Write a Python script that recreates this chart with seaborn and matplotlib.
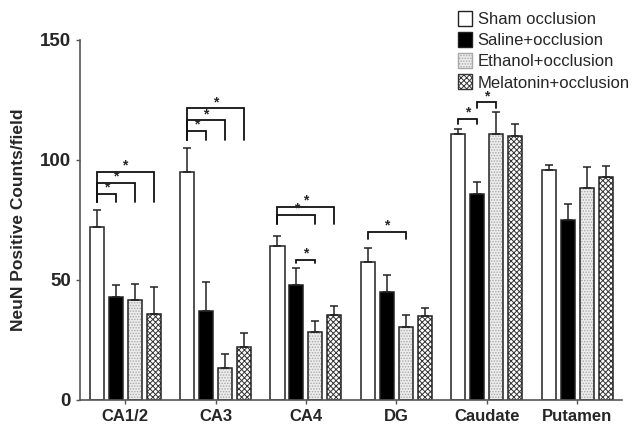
import matplotlib
matplotlib.use("Agg")
import matplotlib.pyplot as plt
from matplotlib.patches import Patch, Rectangle
import seaborn as sns
import pandas as pd
import numpy as np

regions = ["CA1/2", "CA3", "CA4", "DG", "Caudate", "Putamen"]
groups = ["Sham occlusion", "Saline+occlusion", "Ethanol+occlusion", "Melatonin+occlusion"]

sham = [72, 95, 64, 57.5, 111, 96]
saline = [43, 37, 48, 45, 86, 75]
ethanol = [41.5, 13.5, 28.5, 30.5, 111, 88.5]
melatonin = [36, 22, 35.5, 35, 110, 93]

sham_err = [7, 10, 4.5, 6, 1.8, 2]
saline_err = [5, 12, 7, 7, 5, 6.5]
ethanol_err = [7, 5.5, 4.5, 5, 9, 8.5]
melatonin_err = [11, 6, 3.5, 3.5, 5, 4.5]

# significance brackets: (region index, bar a, bar b, line height, leg bottom)
brackets = [
    (0, 0, 1, 86, 82.5), (0, 0, 2, 90.5, 82.5), (0, 0, 3, 95, 82.5),
    (1, 0, 1, 112, 108.5), (1, 0, 2, 116.5, 108.5), (1, 0, 3, 121.5, 108.5),
    (2, 0, 2, 77, 73.5), (2, 0, 3, 80.5, 73.5), (2, 1, 2, 58.5, 57),
    (3, 0, 2, 70, 67),
    (4, 0, 1, 117, 115), (4, 1, 2, 124, 121.5),
]

values = [sham, saline, ethanol, melatonin]
errors = [sham_err, saline_err, ethanol_err, melatonin_err]
df = pd.DataFrame({
    "region": np.tile(regions, 4),
    "group": np.repeat(groups, 6),
    "value": np.concatenate(values),
})

sns.set_style("white")
plt.rcParams["font.family"] = ["Liberation Sans", "DejaVu Sans"]
plt.rcParams["hatch.linewidth"] = 0.7

fig = plt.figure(figsize=(6.35, 4.3), dpi=100)
ax = fig.add_axes([0.126, 0.07, 0.854, 0.837])

face = ["white", "black", "#ececec", "white"]
sns.barplot(data=df, x="region", y="value", hue="group", order=regions,
            hue_order=groups, errorbar=None, width=0.84, gap=0.26,
            palette=face, edgecolor="#222222", linewidth=1.1, ax=ax,
            legend=False)

# hatch texture colour, drawn through the bar edge; outline redrawn on top
hatches = [None, None, "......", "xxxxxx"]
hatch_col = [None, None, "#a8a8a8", "#333333"]
bar_x = np.zeros((4, 6))
bars = list(ax.patches)
for i in range(4):
    for j in range(6):
        p = bars[i * 6 + j]
        bar_x[i, j] = p.get_x() + p.get_width() / 2
        if hatches[i]:
            p.set_hatch(hatches[i])
            p.set_edgecolor(hatch_col[i])
            p.set_linewidth(0)
            ax.add_patch(Rectangle((p.get_x(), 0), p.get_width(), p.get_height(),
                                   facecolor="none", edgecolor="#222222",
                                   linewidth=1.1, zorder=p.get_zorder() + 0.1))
    ax.errorbar(bar_x[i], values[i], yerr=[np.zeros(6), errors[i]], fmt="none",
                ecolor="#222222", elinewidth=1.1, capsize=3, capthick=1.1)

for r, a, b, h, low in brackets:
    xa, xb = bar_x[a, r], bar_x[b, r]
    ax.plot([xa, xa, xb, xb], [low, h, h, low], color="#111111", lw=1.3,
            solid_joinstyle="miter")
    ax.text((xa + xb) / 2, h - 0.3, "*", ha="center", va="bottom",
            fontsize=10, fontweight="bold")

ax.set_xlim(-0.5, 5.5)
ax.set_ylim(0, 150)
ax.set_yticks([0, 50, 100, 150])
ax.set_xlabel("")
ax.set_ylabel("NeuN Positive Counts/field", fontsize=12.5, fontweight="bold",
              labelpad=10)
ax.tick_params(axis="both", length=3, width=1, color="#555555",
               direction="out", bottom=True, left=True)
ax.tick_params(axis="x", labelsize=12)
ax.tick_params(axis="y", labelsize=13.5)
for lbl in ax.get_xticklabels() + ax.get_yticklabels():
    lbl.set_fontweight("bold")
sns.despine(ax=ax)
for s in ["left", "bottom"]:
    ax.spines[s].set_color("#555555")
    ax.spines[s].set_linewidth(1.2)

handles = [
    Patch(facecolor="white", edgecolor="#222222", label=groups[0]),
    Patch(facecolor="black", edgecolor="#222222", label=groups[1]),
    Patch(facecolor="#ececec", edgecolor="#a8a8a8", hatch="......", label=groups[2]),
    Patch(facecolor="white", edgecolor="#333333", hatch="xxxxxx", label=groups[3]),
]
fig.legend(handles=handles, loc="upper left", bbox_to_anchor=(0.71, 0.99),
           frameon=False, fontsize=12, handlelength=0.85, handleheight=1.0,
           handletextpad=0.35, labelspacing=0.3, borderaxespad=0.2,
           borderpad=0.2)

fig.savefig("out.png", dpi=100)
